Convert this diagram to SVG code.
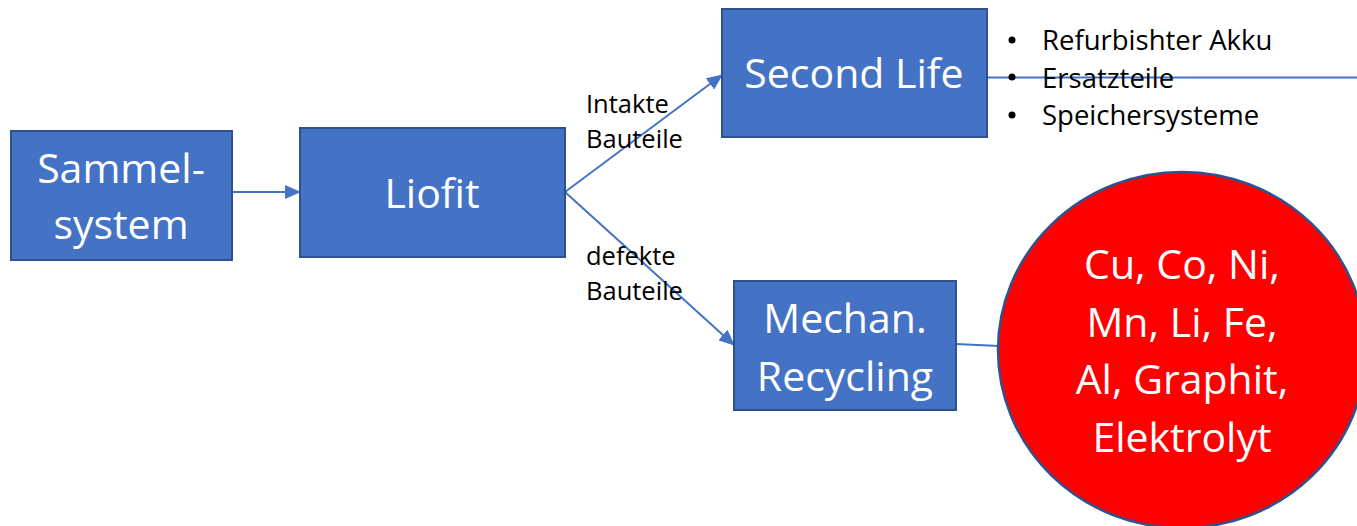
<svg xmlns="http://www.w3.org/2000/svg" width="1357" height="526" viewBox="0 0 1357 526">
<style>
.box{fill:#4472C4;stroke:#2F528F;stroke-width:2}
.big{font-family:"Open Sans","Liberation Sans",sans-serif;font-size:41px;fill:#ffffff;text-anchor:middle}
.lbl{font-family:"Open Sans","Liberation Sans",sans-serif;font-size:25.5px;fill:#000000}
.bul{font-family:"Open Sans","Liberation Sans",sans-serif;font-size:27.5px;fill:#000000}
.con{stroke:#4472C4;stroke-width:2;fill:none}
</style>
<defs>
<marker id="ah" markerUnits="userSpaceOnUse" markerWidth="16" markerHeight="14" refX="15" refY="7" orient="auto">
<path d="M0,0 L16,7 L0,14 Z" fill="#4472C4"/>
</marker>
</defs>
<g id="connectors">
<line class="con" x1="232" y1="192" x2="300" y2="192" marker-end="url(#ah)"/>
<line class="con" x1="565" y1="192" x2="722" y2="75" marker-end="url(#ah)"/>
<line class="con" x1="565" y1="192" x2="734" y2="345" marker-end="url(#ah)"/>
<line class="con" x1="987" y1="77.5" x2="1357" y2="77.5"/>
<line class="con" x1="956" y1="344" x2="999" y2="346"/>
</g>
<g id="sammelsystem">
<rect class="box" x="11" y="131" width="221" height="129"/>
<text class="big" x="121" y="183">Sammel-</text>
<text class="big" x="121" y="239">system</text>
</g>
<g id="liofit">
<rect class="box" x="300" y="128" width="265" height="129"/>
<text class="big" x="432" y="208">Liofit</text>
</g>
<g id="secondlife">
<rect class="box" x="722" y="9" width="265" height="128"/>
<text class="big" x="854" y="88">Second Life</text>
</g>
<g id="mechan">
<rect class="box" x="734" y="281" width="222" height="129"/>
<text class="big" x="845" y="333">Mechan.</text>
<text class="big" x="845" y="391">Recycling</text>
</g>
<g id="label-intakt">
<text class="lbl" x="586" y="113">Intakte</text>
<text class="lbl" x="586" y="148">Bauteile</text>
</g>
<g id="label-defekt">
<text class="lbl" x="586" y="265">defekte</text>
<text class="lbl" x="586" y="300">Bauteile</text>
</g>
<g id="bullets">
<circle cx="1012" cy="40" r="3.5" fill="#000"/>
<circle cx="1012" cy="77" r="3.5" fill="#000"/>
<circle cx="1012" cy="115" r="3.5" fill="#000"/>
<text class="bul" x="1042" y="50">Refurbishter Akku</text>
<text class="bul" x="1042" y="88">Ersatzteile</text>
<text class="bul" x="1042" y="125">Speichersysteme</text>
</g>
<g id="materials">
<ellipse cx="1182" cy="350" rx="184" ry="178" fill="#FF0000" stroke="#2F528F" stroke-width="2.5"/>
<text class="big" x="1182" y="279">Cu, Co, Ni,</text>
<text class="big" x="1182" y="337">Mn, Li, Fe,</text>
<text class="big" x="1182" y="394">Al, Graphit,</text>
<text class="big" x="1182" y="452">Elektrolyt</text>
</g>
</svg>
